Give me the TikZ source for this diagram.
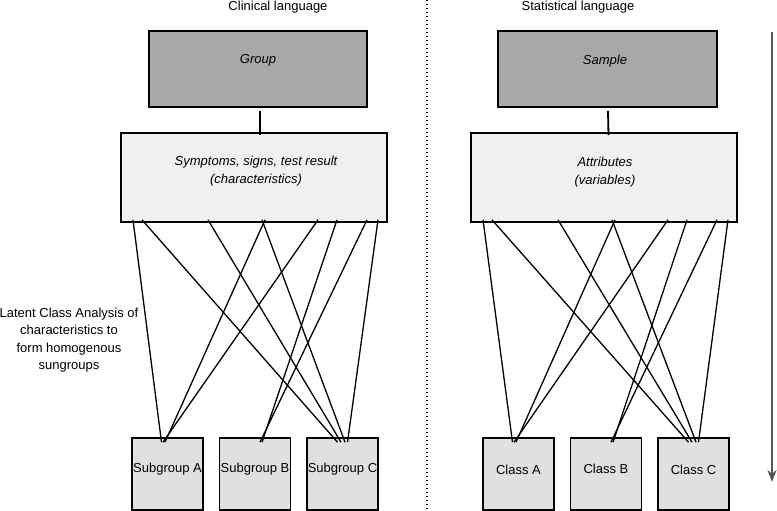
\documentclass[tikz,border=0pt]{standalone}
\usepackage{fontspec}
\setmainfont{Liberation Sans}
\usetikzlibrary{arrows.meta,calc}
\begin{document}
\begin{tikzpicture}[x=1pt,y=-1pt,
  darkbox/.style={draw=black,line width=1.6pt,fill=boxdark,minimum width=218pt,minimum height=76pt,inner sep=0pt},
  lightbox/.style={draw=black,line width=1.6pt,fill=boxlight,minimum width=266pt,minimum height=89pt,inner sep=0pt},
  smallbox/.style={draw=black,line width=1.6pt,fill=boxsmall,minimum width=71pt,minimum height=72pt,inner sep=0pt},
  lbl/.style={font=\fontsize{13}{17.5}\selectfont,align=center,inner sep=0pt},
  ilbl/.style={font=\fontsize{13}{18}\selectfont\itshape,align=center,inner sep=0pt},
  link/.style={draw=black,line width=1.3pt}]
\definecolor{boxdark}{HTML}{A8A8A8}
\definecolor{boxlight}{HTML}{F0F0F0}
\definecolor{boxsmall}{HTML}{E0E0E0}
\definecolor{arrowgray}{HTML}{555555}
\useasboundingbox (0,0) rectangle (777,511);

% headings
\node[lbl] (hc) at (278,7) {Clinical language};
\node[lbl] (hs) at (578,7) {Statistical language};

% divider
\coordinate (dtop) at (427,0);
\coordinate (dbot) at (427,511);
\draw[line width=1.1pt,dash pattern=on 1.2pt off 2.8pt] (dtop) -- (dbot);

% left side
\node[darkbox] (group) at (258,69) {};
\node[ilbl] (grouptxt) at (258,60) {Group};
\node[lightbox] (char) at (254,177.5) {};
\node[ilbl] (chartxt) at (256,171) {Symptoms, signs, test result\\(characteristics)};
\node[smallbox] (sa) at (167.5,474) {};
\node[lbl] (satxt) at (167.5,469) {Subgroup A};
\node[smallbox] (sb) at (255,474) {};
\node[lbl] (sbtxt) at (255,469) {Subgroup B};
\node[smallbox] (sc) at (342.5,474) {};
\node[lbl] (sctxt) at (342.5,469) {Subgroup C};
\draw[line width=1.8pt] (group.south) ++(2,3) -- ([xshift=6pt,yshift=-3pt]char.north);

\draw[link] ([xshift=-121pt,yshift=3pt]char.south) -- ([xshift=-6pt,yshift=-5pt]sa.north);
\draw[link] ([xshift=11pt,yshift=3pt]char.south) -- ([xshift=-2.5pt,yshift=-5pt]sa.north);
\draw[link] ([xshift=64pt,yshift=3pt]char.south) -- ([xshift=-4.5pt,yshift=-5pt]sa.north);
\draw[link] ([xshift=83pt,yshift=3pt]char.south) -- ([xshift=7pt,yshift=-5pt]sb.north);
\draw[link] ([xshift=113pt,yshift=3pt]char.south) -- ([xshift=5pt,yshift=-5pt]sb.north);
\draw[link] ([xshift=-112pt,yshift=3pt]char.south) -- ([xshift=-5pt,yshift=-5pt]sc.north);
\draw[link] ([xshift=-46pt,yshift=3pt]char.south) -- ([xshift=-1.5pt,yshift=-5pt]sc.north);
\draw[link] ([xshift=8pt,yshift=3pt]char.south) -- ([xshift=2.5pt,yshift=-5pt]sc.north);
\draw[link] ([xshift=124pt,yshift=3pt]char.south) -- ([xshift=5pt,yshift=-5pt]sc.north);

% right side
\node[darkbox,minimum width=219pt] (sample) at (607.5,69) {};
\node[ilbl] (sampletxt) at (605,61) {Sample};
\node[lightbox] (attr) at (604,177.5) {};
\node[ilbl] (attrtxt) at (605,172) {Attributes\\(variables)};
\node[smallbox] (ca) at (518.5,474) {};
\node[lbl] (catxt) at (518.5,470) {Class A};
\node[smallbox] (cb) at (606,474) {};
\node[lbl] (cbtxt) at (606,469) {Class B};
\node[smallbox] (cc) at (693.5,474) {};
\node[lbl] (cctxt) at (693.5,470) {Class C};
\draw[line width=1.8pt] (sample.south) ++(0.5,3) -- ([xshift=4.5pt,yshift=-3pt]attr.north);

\draw[link] ([xshift=-121pt,yshift=3pt]attr.south) -- ([xshift=-6pt,yshift=-5pt]ca.north);
\draw[link] ([xshift=11pt,yshift=3pt]attr.south) -- ([xshift=-2.5pt,yshift=-5pt]ca.north);
\draw[link] ([xshift=64pt,yshift=3pt]attr.south) -- ([xshift=-4.5pt,yshift=-5pt]ca.north);
\draw[link] ([xshift=83pt,yshift=3pt]attr.south) -- ([xshift=7pt,yshift=-5pt]cb.north);
\draw[link] ([xshift=113pt,yshift=3pt]attr.south) -- ([xshift=5pt,yshift=-5pt]cb.north);
\draw[link] ([xshift=-112pt,yshift=3pt]attr.south) -- ([xshift=-5pt,yshift=-5pt]cc.north);
\draw[link] ([xshift=-46pt,yshift=3pt]attr.south) -- ([xshift=-1.5pt,yshift=-5pt]cc.north);
\draw[link] ([xshift=8pt,yshift=3pt]attr.south) -- ([xshift=2.5pt,yshift=-5pt]cc.north);
\draw[link] ([xshift=124pt,yshift=3pt]attr.south) -- ([xshift=5pt,yshift=-5pt]cc.north);

% side text
\node[lbl] (lca) at (69,340) {Latent Class Analysis of\\characteristics to\\form homogenous\\sungroups};

% time arrow
\coordinate (atop) at (772,32);
\coordinate (abot) at (772,482);
\draw[arrowgray,line width=2pt,-{Stealth[length=12pt,width=9pt]}] (atop) -- (abot);
\end{tikzpicture}
\end{document}
